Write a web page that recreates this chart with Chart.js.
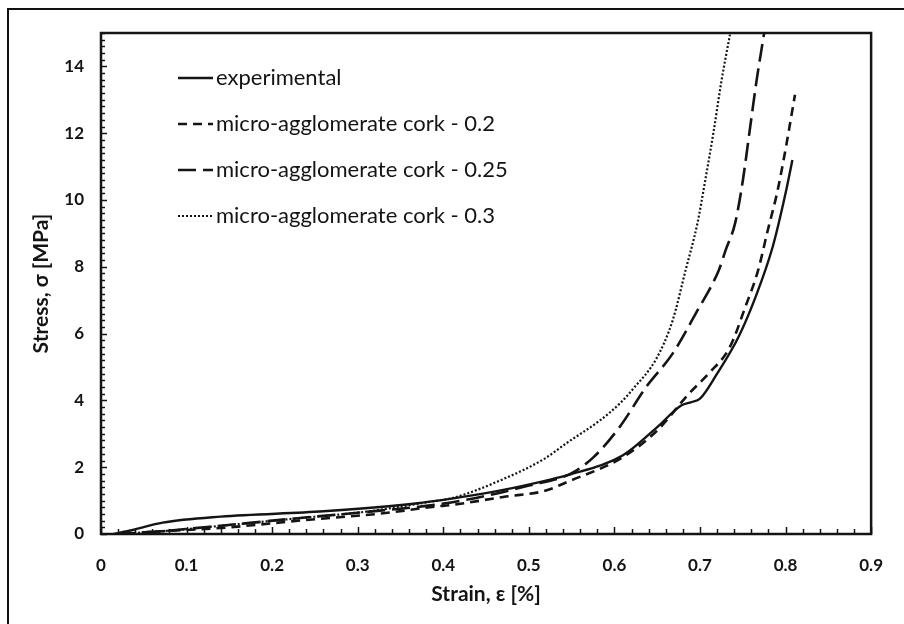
<!DOCTYPE html>
<html>
<head>
<meta charset="utf-8">
<script src="https://cdn.jsdelivr.net/npm/chart.js@4/dist/chart.umd.min.js"></script>
<style>
  html, body { margin: 0; padding: 0; background: #fff; overflow: hidden; }
  #wrap { position: relative; width: 904px; height: 624px; }
  #frame { position: absolute; left: 7px; top: 8px; width: 1000px; height: 1000px;
           border: 2px solid #111; box-sizing: border-box; pointer-events: none; }
</style>
</head>
<body>
<div id="wrap">
  <canvas id="stress-strain" width="904" height="624"></canvas>
  <div id="frame"></div>
</div>
<script>
// Stress-strain curves: experimental vs micro-agglomerate cork models

// Data (strain [-], stress [MPa])
const seriesNames = ["experimental", "micro-agglomerate cork - 0.2", "micro-agglomerate cork - 0.25", "micro-agglomerate cork - 0.3"]

const expStrain = [0.015, 0.037, 0.072, 0.14, 0.26, 0.37, 0.43, 0.47, 0.52, 0.545, 0.61, 0.65, 0.678, 0.69, 0.70, 0.72, 0.745, 0.765, 0.785, 0.80, 0.808]
const expStress = [0, 0.12, 0.34, 0.52, 0.68, 0.92, 1.14, 1.32, 1.6, 1.76, 2.36, 3.2, 3.85, 3.95, 4.05, 4.8, 5.9, 7.1, 8.6, 10.2, 11.2]

const cork020Strain = [0.03, 0.045, 0.14, 0.24, 0.33, 0.39, 0.41, 0.47, 0.52, 0.545, 0.61, 0.65, 0.687, 0.71, 0.735, 0.753, 0.768, 0.779, 0.79, 0.797, 0.804, 0.811]
const cork020Stress = [0, 0.04, 0.18, 0.42, 0.62, 0.82, 0.87, 1.11, 1.3, 1.56, 2.3, 3.1, 4.2, 4.8, 5.6, 6.8, 7.9, 9.07, 10.2, 11.1, 12.1, 13.15]

const cork025Strain = [0.02, 0.064, 0.149, 0.233, 0.314, 0.403, 0.46, 0.5, 0.549, 0.576, 0.606, 0.637, 0.668, 0.695, 0.722, 0.73, 0.741, 0.75, 0.758, 0.766, 0.775]
const cork025Stress = [0, 0.07, 0.27, 0.48, 0.67, 0.92, 1.2, 1.45, 1.81, 2.31, 3.2, 4.4, 5.4, 6.6, 7.9, 8.5, 9.3, 10.57, 12.06, 13.55, 15]

const cork030Strain = [0.02, 0.07, 0.15, 0.23, 0.31, 0.391, 0.41, 0.468, 0.518, 0.544, 0.583, 0.606, 0.622, 0.649, 0.668, 0.683, 0.697, 0.706, 0.716, 0.725, 0.735]
const cork030Stress = [0, 0.08, 0.27, 0.47, 0.67, 0.99, 1.07, 1.62, 2.25, 2.72, 3.4, 3.9, 4.35, 5.25, 6.39, 7.88, 9.3, 10.57, 12.06, 13.55, 14.95]

// Axis tick labels
const xTickValues = [0, 0.1, 0.2, 0.3, 0.4, 0.5, 0.6, 0.7, 0.8, 0.9]
const xTickLabels = ["0", "0.1", "0.2", "0.3", "0.4", "0.5", "0.6", "0.7", "0.8", "0.9"]
const yTickValues = [0, 2, 4, 6, 8, 10, 12, 14]
const yTickLabels = ["0", "2", "4", "6", "8", "10", "12", "14"]

const ink = '#141414'

function toPoints(xs, ys) {
    return xs.map((x, i) => ({ x: x, y: ys[i] }))
}

function lineDataset(label, xs, ys, width, dash) {
    return {
        label: label,
        data: toPoints(xs, ys),
        showLine: true,
        borderColor: ink,
        backgroundColor: ink,
        borderWidth: width,
        borderDash: dash,
        pointRadius: 0,
        cubicInterpolationMode: 'monotone',
        fill: false
    }
}

// inward minor/major ticks + plot frame + in-plot legend
const framePlugin = {
    id: 'frameTicks',
    afterDraw(chart) {
        const { ctx, chartArea: a, scales: { x, y } } = chart
        ctx.save()
        ctx.strokeStyle = ink
        ctx.lineWidth = 1.5
        ctx.beginPath()
        for (let i = 0; i <= 75; i++) {
            const py = Math.round(y.getPixelForValue(i * 0.2)) + 0.5
            ctx.moveTo(a.left, py)
            ctx.lineTo(a.left + (i % 10 === 0 ? 6 : 4), py)
        }
        for (let i = 0; i <= 45; i++) {
            const px = Math.round(x.getPixelForValue(i * 0.02)) + 0.5
            ctx.moveTo(px, a.bottom)
            ctx.lineTo(px, a.bottom - (i % 5 === 0 ? 7 : 5))
        }
        ctx.stroke()

        ctx.lineWidth = 2.5
        ctx.strokeRect(a.left, a.top, a.right - a.left, a.bottom - a.top)

        // legend
        ctx.font = '22px Lato'
        ctx.fillStyle = ink
        ctx.textBaseline = 'middle'
        chart.data.datasets.forEach((ds, i) => {
            const ly = a.top + 45 + i * 46
            ctx.beginPath()
            ctx.lineWidth = ds.borderWidth
            ctx.setLineDash(ds.borderDash || [])
            ctx.moveTo(a.left + 77, ly)
            ctx.lineTo(a.left + 112, ly)
            ctx.stroke()
            ctx.setLineDash([])
            ctx.fillText(ds.label, a.left + 115, ly)
        })
        ctx.restore()
    }
}

function drawChart() {
    const datasets = [
        lineDataset(seriesNames[0], expStrain, expStress, 2.4, []),
        lineDataset(seriesNames[1], cork020Strain, cork020Stress, 2.6, [9, 6]),
        lineDataset(seriesNames[2], cork025Strain, cork025Stress, 2.6, [18, 7]),
        lineDataset(seriesNames[3], cork030Strain, cork030Stress, 2.2, [2, 2])
    ]

    const tickFont = { family: 'Lato', weight: 'bold', size: 17 }
    const titleFont = { family: 'Lato', weight: 'bold', size: 21 }

    const config = {
        type: 'scatter',
        data: { datasets: datasets },
        options: {
            responsive: false,
            animation: false,
            layout: { padding: { left: 0, top: 33, right: 21, bottom: 0 } },
            plugins: {
                legend: { display: false },
                tooltip: { enabled: false }
            },
            scales: {
                x: {
                    type: 'linear',
                    min: 0,
                    max: 0.9,
                    afterBuildTicks: s => { s.ticks = xTickValues.map(v => ({ value: v })) },
                    afterFit: s => { s.height = 90 },
                    grid: { display: false, drawTicks: false },
                    border: { display: false },
                    ticks: {
                        color: ink,
                        font: tickFont,
                        padding: 21,
                        maxRotation: 0,
                        callback: (v, i) => xTickLabels[i]
                    },
                    title: {
                        display: true,
                        text: 'Strain, ε [%]',
                        color: ink,
                        font: titleFont,
                        padding: { top: 0, bottom: 17 }
                    }
                },
                y: {
                    type: 'linear',
                    min: 0,
                    max: 15,
                    afterBuildTicks: s => { s.ticks = yTickValues.map(v => ({ value: v })) },
                    afterFit: s => { s.width = 101 },
                    grid: { display: false, drawTicks: false },
                    border: { display: false },
                    ticks: {
                        color: ink,
                        font: tickFont,
                        padding: 17,
                        callback: (v, i) => yTickLabels[i]
                    },
                    title: {
                        display: true,
                        text: 'Stress, σ [MPa]',
                        color: ink,
                        font: titleFont,
                        padding: { top: 29, bottom: 0 }
                    }
                }
            }
        },
        plugins: [framePlugin]
    }

    new Chart(document.getElementById('stress-strain'), config)
}

drawChart()
</script>
</body>
</html>
